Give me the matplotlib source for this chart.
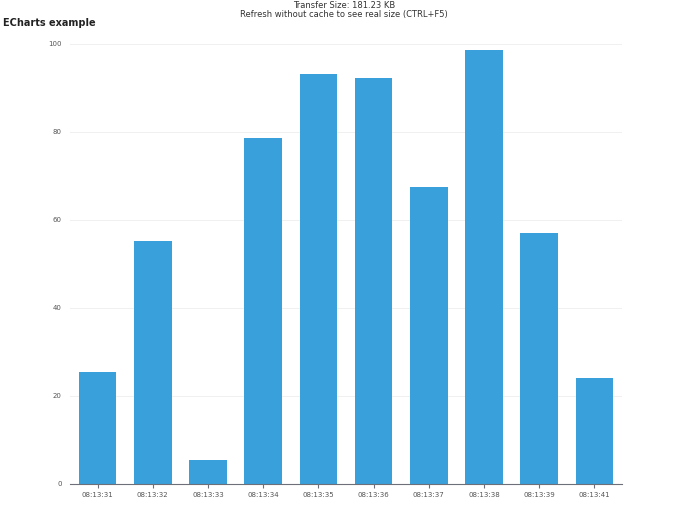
import matplotlib.pyplot as plt

times = ['08:13:31', '08:13:32', '08:13:33', '08:13:34', '08:13:35',
         '08:13:36', '08:13:37', '08:13:38', '08:13:39', '08:13:41']
values = [25.5, 55.2, 5.5, 78.6, 93.2, 92.3, 67.5, 98.6, 57.0, 24.1]
yticks = [0, 20, 40, 60, 80, 100]

fig = plt.figure(figsize=(6.88, 5.12), dpi=100)
ax = fig.add_axes([70 / 688, 1 - 484 / 512, 552 / 688, 440 / 512])

ax.bar(range(len(times)), values, width=0.68, color='#3aa0db', zorder=2)
ax.set_xlim(-0.5, len(times) - 0.5)
ax.set_ylim(0, 100)
ax.set_xticks(range(len(times)))
ax.set_xticklabels(times, fontsize=5, color='#555555')
ax.set_yticks(yticks)
ax.set_yticklabels([str(v) for v in yticks], fontsize=5, color='#555555')
ax.tick_params(axis='y', length=0, pad=6)
ax.tick_params(axis='x', length=3, color='#6e7079', pad=3)
for y in yticks[1:]:
    ax.axhline(y, color='#eeeeee', lw=0.6, zorder=1)
for s in ['top', 'right', 'left']:
    ax.spines[s].set_visible(False)
ax.spines['bottom'].set_color('#6e7079')
ax.spines['bottom'].set_linewidth(0.8)

fig.text(0.5, 1 - 6 / 512, 'Transfer Size: 181.23 KB', ha='center', va='center', fontsize=6, color='#333333')
fig.text(0.5, 1 - 15 / 512, 'Refresh without cache to see real size (CTRL+F5)', ha='center', va='center', fontsize=6, color='#333333')
fig.text(3 / 688, 1 - 23 / 512, 'ECharts example', ha='left', va='center', fontsize=7, fontweight='bold', color='#222222')

fig.savefig('out.png', dpi=100)
